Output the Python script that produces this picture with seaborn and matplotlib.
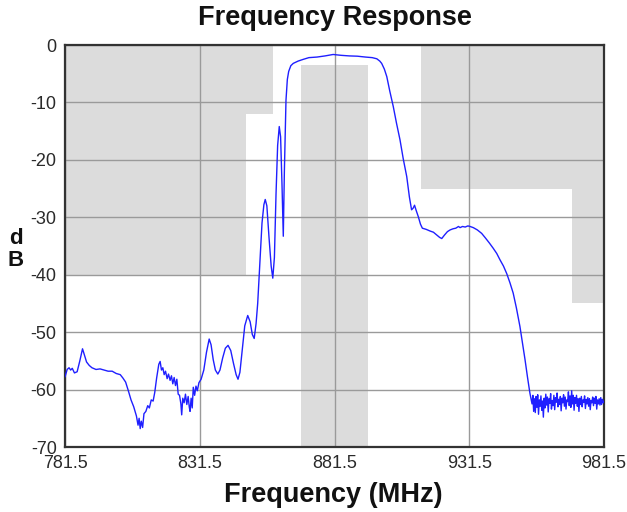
import numpy as np
import pandas as pd
import matplotlib
matplotlib.use("Agg")
import matplotlib.pyplot as plt
import seaborn as sns

# ---------------- data ----------------
freq_mhz = [
    781.5, 782.3, 783.0, 783.6, 784.2, 785.0, 786.0, 787.0, 788.0, 788.6,
    789.5, 790.5, 791.5, 793.0, 794.5, 796.0, 797.5, 799.0, 800.5, 802.0,
    803.0, 804.0, 805.0, 806.0, 807.0, 808.0, 808.6, 809.0, 809.4, 809.8,
    810.3, 810.8, 811.5, 812.2, 812.8, 813.5, 814.2, 814.8, 815.5, 816.3,
    816.8, 817.3, 817.8, 818.3, 818.8, 819.4, 819.9, 820.5, 821.0, 821.5,
    822.0, 822.5, 823.0, 823.5, 824.0, 824.5, 824.8, 825.2, 825.7, 826.2,
    826.7, 827.2, 827.6, 827.9, 828.3, 828.7, 829.1, 829.6, 830.1, 830.6,
    831.2, 832.0, 833.0, 834.0, 835.0, 835.7, 836.5, 837.3, 838.2, 839.0,
    840.0, 841.0, 842.0, 843.0, 844.0, 845.0, 845.7, 846.4, 847.2, 848.2,
    849.3, 850.2, 851.0, 851.7, 852.4, 853.0, 853.8, 854.6, 855.3, 855.8,
    856.4, 857.2, 858.0, 858.6, 859.2, 859.8, 860.4, 861.0, 861.5, 862.0,
    862.5, 862.9, 863.5, 864.0, 864.5, 865.3, 866.2, 868.0, 869.9, 872.0,
    875.0, 878.0, 881.0, 884.0, 887.0, 890.0, 893.0, 895.5, 897.2, 898.3,
    899.0, 900.0, 900.9, 902.0, 903.3, 904.5, 905.8, 907.0, 908.3, 909.3,
    910.1, 910.7, 911.2, 911.8, 912.6, 913.4, 914.1, 915.5, 917.0, 918.2,
    919.5, 920.5, 921.3, 922.3, 923.4, 924.4, 925.5, 926.5, 927.5, 928.1,
    929.0, 930.0, 931.0, 931.8, 933.0, 934.5, 936.1, 937.5, 939.0, 940.4,
    941.7, 942.9, 944.2, 945.4, 946.6, 947.8, 949.0, 950.3, 951.3, 952.2,
    953.1, 954.0, 954.5,
    954.8, 955.1, 955.4, 955.7, 956.0, 956.3, 956.6, 956.9, 957.2, 957.5,
    957.8, 958.1, 958.4, 958.7, 959.0, 959.3, 959.6, 959.9, 960.2, 960.5,
    960.8, 961.1, 961.4, 961.7, 962.0, 962.3, 962.6, 962.9, 963.2, 963.5,
    963.8, 964.1, 964.4, 964.7, 965.0, 965.3, 965.6, 965.9, 966.2, 966.5,
    966.8, 967.1, 967.4, 967.7, 968.0, 968.3, 968.6, 968.9, 969.2, 969.5,
    969.8, 970.1, 970.4, 970.7, 971.0, 971.3, 971.6, 971.9, 972.2, 972.5,
    972.8, 973.1, 973.4, 973.7, 974.0, 974.3, 974.6, 974.9, 975.2, 975.5,
    975.8, 976.1, 976.4, 976.7, 977.0, 977.3, 977.6, 977.9, 978.2, 978.5,
    978.8, 979.1, 979.4, 979.7, 980.0, 980.3, 980.6, 980.9, 981.2, 981.5,
]
level_db = [
    -57.8, -56.5, -56.2, -56.6, -56.3, -57.1, -56.9, -55.0, -52.9, -53.8,
    -55.2, -55.8, -56.2, -56.5, -56.4, -56.6, -56.8, -56.8, -57.2, -57.4,
    -58.0, -58.7, -60.2, -61.8, -63.0, -64.6, -66.2, -65.0, -66.8, -65.5,
    -66.6, -64.2, -63.8, -62.8, -63.2, -61.8, -62.0, -60.5, -58.0, -55.6,
    -55.1, -56.6, -56.2, -57.4, -56.8, -58.1, -57.3, -58.4, -57.6, -59.0,
    -57.9, -59.3, -58.2, -60.8, -61.0, -62.5, -64.4, -61.5, -62.3, -60.8,
    -62.6, -61.2, -63.0, -63.8, -61.5, -63.2, -59.6, -61.0, -59.4, -60.2,
    -58.8, -58.2, -56.6, -53.5, -51.2, -52.2, -54.8, -56.6, -57.3, -56.6,
    -54.5, -52.8, -52.3, -53.2, -55.4, -57.4, -58.2, -57.0, -53.4, -48.9,
    -47.1, -48.2, -50.4, -51.1, -48.5, -45.0, -38.0, -31.0, -27.8, -26.9,
    -28.0, -33.5, -38.5, -40.6, -37.0, -26.0, -17.5, -14.2, -16.0, -24.0,
    -33.3, -22.0, -9.6, -6.0, -4.6, -3.6, -3.2, -2.8, -2.5, -2.2,
    -2.1, -1.9, -1.65, -1.8, -1.9, -1.95, -2.1, -2.2, -2.4, -2.8,
    -3.2, -4.2, -5.5, -8.0, -10.7, -13.6, -16.5, -19.8, -22.9, -26.5,
    -28.7, -28.4, -27.9, -28.8, -29.9, -31.2, -31.9, -32.1, -32.4, -32.6,
    -33.1, -33.5, -33.7, -33.1, -32.5, -32.2, -32.0, -31.9, -31.6, -31.8,
    -31.6, -31.7, -31.5, -31.6, -31.8, -32.2, -32.8, -33.6, -34.5, -35.4,
    -36.3, -37.4, -38.5, -39.8, -41.4, -43.2, -45.8, -49.0, -52.0, -54.8,
    -57.8, -60.6, -61.8,
    -62.5, -61.0, -63.8, -61.6, -64.0, -61.2, -63.1, -60.9, -64.3, -61.8,
    -62.9, -61.1, -63.6, -62.0, -64.8, -61.5, -63.2, -60.8, -62.7, -61.3,
    -63.9, -61.6, -62.4, -60.7, -63.4, -61.9, -62.8, -61.0, -63.5, -61.4,
    -62.2, -60.6, -63.0, -61.7, -62.6, -61.2, -63.7, -61.5, -62.3, -60.9,
    -62.9, -61.3, -63.4, -61.8, -62.1, -60.4, -62.8, -61.1, -63.1, -60.2,
    -62.5, -61.0, -63.6, -61.4, -62.4, -61.0, -62.9, -61.6, -63.8, -61.5,
    -62.6, -61.2, -63.0, -61.8, -62.2, -61.1, -63.3, -61.7, -62.5, -61.4,
    -62.9, -61.6, -63.5, -61.9, -62.3, -61.3, -62.8, -61.5, -62.4, -61.2,
    -63.4, -61.8, -62.5, -61.6, -62.7, -61.4, -62.6, -61.7, -62.3, -62.0,
]

# spectral mask (grey forbidden zones): x range and dB range
mask_x0 = [781.5, 848.7, 869.0, 913.6, 969.7]
mask_x1 = [848.7, 858.6, 894.0, 981.5, 981.5]
mask_top = [0.0, 0.0, -3.4, 0.0, -25.0]
mask_bottom = [-40.0, -12.0, -70.0, -25.0, -45.0]

x_ticks = [781.5, 831.5, 881.5, 931.5, 981.5]
x_tick_labels = ["781.5", "831.5", "881.5", "931.5", "981.5"]
y_ticks = [0, -10, -20, -30, -40, -50, -60, -70]
y_tick_labels = ["0", "-10", "-20", "-30", "-40", "-50", "-60", "-70"]

title_text = "Frequency Response"
x_label = "Frequency (MHz)"
y_label_lines = ["d", "B"]

# ---------------- plotting ----------------
sns.set_theme(style="white")
plt.rcParams["font.family"] = ["Liberation Sans", "DejaVu Sans"]
plt.rcParams["axes.unicode_minus"] = False

W, H = 627, 512
fig = plt.figure(figsize=(W / 100, H / 100), dpi=100)
ax = fig.add_axes([65 / W, 1 - 447 / H, (604 - 65) / W, (447 - 45) / H])

for x0, x1, t, b in zip(mask_x0, mask_x1, mask_top, mask_bottom):
    ax.fill_between([x0, x1], [t, t], [b, b], color="#dcdcdc", lw=0, zorder=0.2)

df = pd.DataFrame({"freq": freq_mhz, "db": level_db})
sns.lineplot(data=df, x="freq", y="db", ax=ax, color="#1f1fff", lw=1.0,
             estimator=None, sort=False, zorder=3)

ax.set_xlim(781.5, 981.5)
ax.set_ylim(-70, 0)
ax.set_xticks(x_ticks)
ax.set_xticklabels(x_tick_labels)
ax.set_yticks(y_ticks)
ax.set_yticklabels(y_tick_labels)
ax.tick_params(axis="both", length=0, labelsize=13, colors="#2a2a2a", pad=6)
ax.set_axisbelow(True)
ax.grid(True, color="#9a9a9a", lw=1.0)
ax.set_xlabel("")
ax.set_ylabel("")
for s in ax.spines.values():
    s.set_color("#333333")
    s.set_linewidth(1.6)
    s.set_visible(True)

fig.text(334.5 / W, 1 - 25 / H, title_text, ha="center", va="baseline",
         fontsize=19.5, fontweight="bold", color="#111111")
fig.text(333 / W, 1 - 501.5 / H, x_label, ha="center", va="baseline",
         fontsize=19.5, fontweight="bold", color="#111111")
fig.text(16 / W, 1 - 244 / H, y_label_lines[0], ha="center", va="baseline",
         fontsize=16, fontweight="bold", color="#111111")
fig.text(16 / W, 1 - 266 / H, y_label_lines[1], ha="center", va="baseline",
         fontsize=16, fontweight="bold", color="#111111")

fig.savefig("out.png", dpi=100)
